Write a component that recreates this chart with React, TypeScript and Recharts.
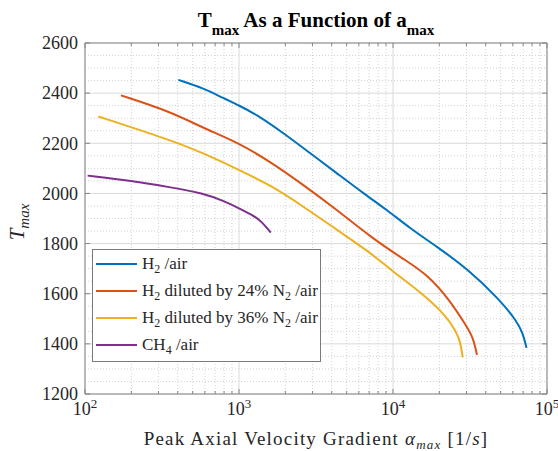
import React from 'react';
import { LineChart, Line, XAxis, YAxis, CartesianGrid, Legend } from 'recharts';

const FONT = "'Liberation Serif', 'Times New Roman', serif";
const AXIS = '#858585';
const TEXT = '#262626';

// axis ticks
const xMajorTicks = [100, 1000, 10000, 100000];
const xTickExp: Record<number, string> = { 100: '2', 1000: '3', 10000: '4', 100000: '5' };
const xMinorTicks = [
  200, 300, 400, 500, 600, 700, 800, 900,
  2000, 3000, 4000, 5000, 6000, 7000, 8000, 9000,
  20000, 30000, 40000, 50000, 60000, 70000, 80000, 90000,
];
const yTicks = [1200, 1400, 1600, 1800, 2000, 2200, 2400, 2600];
const yMinorGrid = [
  1250, 1300, 1350, 1450, 1500, 1550, 1650, 1700, 1750, 1850, 1900, 1950,
  2050, 2100, 2150, 2250, 2300, 2350, 2450, 2500, 2550,
];

// H2 / air
const h2AirX = [404, 586, 791, 1000, 1303, 1940, 2890, 4310, 6410, 9100, 12900, 19230, 30100, 49500, 63500, 69800, 73600];
const h2AirT = [2453, 2420, 2380, 2351, 2314, 2241, 2161, 2081, 2001, 1935, 1861, 1788, 1702, 1575, 1491, 1443, 1384];

// H2 diluted by 24% N2 / air
const h2N24X = [171, 356, 586, 1000, 1590, 2616, 4310, 7090, 11670, 16550, 23450, 30100, 33200, 35100];
const h2N24T = [2391, 2327, 2261, 2201, 2127, 2034, 1935, 1828, 1738, 1679, 1573, 1469, 1424, 1356];

// H2 diluted by 36% N2 / air
const h2N36X = [122, 356, 586, 1000, 1590, 2616, 4310, 7090, 9570, 15740, 22330, 25290, 27230, 28370];
const h2N36T = [2307, 2214, 2161, 2094, 2034, 1948, 1855, 1765, 1697, 1598, 1509, 1455, 1416, 1346];

// CH4 / air
const ch4AirX = [104, 201, 356, 586, 800, 1041, 1239, 1404, 1607];
const ch4AirT = [2071, 2050, 2025, 2001, 1970, 1935, 1912, 1888, 1844];

const seriesNames = ['H_2 /air', 'H_2 diluted by 24% N_2 /air', 'H_2 diluted by 36% N_2 /air', 'CH_4 /air'];
const seriesColors = ['#0072BD', '#D95319', '#EDB120', '#7E2F8E'];

const toPoints = (xs: number[], ts: number[]) => xs.map((x, i) => ({ x, t: ts[i] }));

const seriesData = [
  toPoints(h2AirX, h2AirT),
  toPoints(h2N24X, h2N24T),
  toPoints(h2N36X, h2N36T),
  toPoints(ch4AirX, ch4AirT),
];

const BottomTick = (props: any) => {
  const { x, y, payload } = props;
  const major = xMajorTicks.includes(payload.value);
  return (
    <g>
      <line x1={x} y1={y} x2={x} y2={y - (major ? 5 : 3)} stroke={AXIS} />
      {major && (
        <text x={x} y={y + 21} textAnchor="middle" fontFamily={FONT} fontSize={18} fill={TEXT}>
          10<tspan dy={-7} fontSize={13}>{xTickExp[payload.value]}</tspan>
        </text>
      )}
    </g>
  );
};

const TopTick = (props: any) => {
  const { x, y, payload } = props;
  const major = xMajorTicks.includes(payload.value);
  return <line x1={x} y1={y} x2={x} y2={y + (major ? 5 : 3)} stroke={AXIS} />;
};

const LeftTick = (props: any) => {
  const { x, y, payload } = props;
  return (
    <g>
      <line x1={x} y1={y} x2={x + 5} y2={y} stroke={AXIS} />
      <text x={x - 7} y={y} dy="0.35em" textAnchor="end" fontFamily={FONT} fontSize={18} fill={TEXT}>
        {payload.value}
      </text>
    </g>
  );
};

const RightTick = (props: any) => {
  const { x, y } = props;
  return <line x1={x} y1={y} x2={x - 5} y2={y} stroke={AXIS} />;
};

const Title = () => (
  <text x={316} y={27} textAnchor="middle" fontFamily={FONT} fontSize={21} fontWeight="bold" fill="#000">
    T<tspan dy={8} fontSize={15}>max</tspan>
    <tspan dy={-8}> As a Function of a</tspan>
    <tspan dy={8} fontSize={15}>max</tspan>
  </text>
);

const XLabel = () => (
  <text x={316} y={445} textAnchor="middle" fontFamily={FONT} fontSize={19} letterSpacing={1.2} fill={TEXT}>
    Peak Axial Velocity Gradient <tspan fontStyle="italic">α</tspan>
    <tspan dy={4} fontSize={13} fontStyle="italic">max</tspan>
    <tspan dy={-4}> [1/</tspan>
    <tspan fontStyle="italic">s</tspan>]
  </text>
);

const YLabel = () => (
  <text
    transform="rotate(-90)"
    x={-222}
    y={24}
    textAnchor="middle"
    fontFamily={FONT}
    fontSize={21}
    fontStyle="italic"
    fill={TEXT}
  >
    T<tspan dy={5} fontSize={15}>max</tspan>
  </text>
);

const rich = (s: string) =>
  s.split(/(_\w)/).map((p, i) =>
    p.startsWith('_') ? (
      <span key={i} style={{ fontSize: 12, position: 'relative', top: 4 }}>
        {p.slice(1)}
      </span>
    ) : (
      <span key={i}>{p}</span>
    )
  );

const LegendBox = (props: any) => {
  const items = [...(props.payload || [])].sort(
    (a: any, b: any) => seriesNames.indexOf(a.value) - seriesNames.indexOf(b.value)
  );
  return (
    <div
      style={{
        border: '1px solid #7a7a7a',
        background: '#fff',
        width: 227,
        paddingBottom: 3,
        fontFamily: FONT,
        fontSize: 17,
        color: TEXT,
      }}
    >
      {items.map((entry: any, i: number) => (
        <div key={i} style={{ display: 'flex', alignItems: 'center', height: 27, whiteSpace: 'pre' }}>
          <div style={{ width: 41, height: 2, marginLeft: 3, marginRight: 5, background: entry.color }} />
          <div>{rich(entry.value)}</div>
        </div>
      ))}
    </div>
  );
};

const allXTicks = [...xMajorTicks, ...xMinorTicks].sort((a, b) => a - b);

export default function App() {
  return (
    <div style={{ position: 'absolute', left: 0, top: 0, width: 558, height: 451, background: '#fff' }}>
      <LineChart width={558} height={451} margin={{ top: 0, right: 0, bottom: 0, left: 0 }}>
        <CartesianGrid
          horizontalValues={yMinorGrid}
          verticalValues={xMinorTicks}
          stroke="#d2d2d2"
          strokeDasharray="1 2"
        />
        <CartesianGrid horizontalValues={yTicks} verticalValues={xMajorTicks} stroke="#dadada" />
        <XAxis
          dataKey="x"
          type="number"
          scale="log"
          domain={[100, 100000]}
          allowDataOverflow
          ticks={allXTicks}
          interval={0}
          tick={<BottomTick />}
          tickLine={false}
          tickSize={0}
          tickMargin={0}
          axisLine={{ stroke: AXIS }}
          height={57}
          label={<XLabel />}
        />
        <XAxis
          xAxisId="top"
          orientation="top"
          dataKey="x"
          type="number"
          scale="log"
          domain={[100, 100000]}
          allowDataOverflow
          ticks={allXTicks}
          interval={0}
          tick={<TopTick />}
          tickLine={false}
          tickSize={0}
          tickMargin={0}
          axisLine={{ stroke: AXIS }}
          height={43}
          label={<Title />}
        />
        <YAxis
          type="number"
          domain={[1200, 2600]}
          allowDataOverflow
          ticks={yTicks}
          interval={0}
          tick={<LeftTick />}
          tickLine={false}
          tickSize={0}
          tickMargin={0}
          axisLine={{ stroke: AXIS }}
          width={85}
          label={<YLabel />}
        />
        <YAxis
          yAxisId="right"
          orientation="right"
          type="number"
          domain={[1200, 2600]}
          allowDataOverflow
          ticks={yTicks}
          interval={0}
          tick={<RightTick />}
          tickLine={false}
          tickSize={0}
          tickMargin={0}
          axisLine={{ stroke: AXIS }}
          width={11}
        />
        <Legend
          layout="vertical"
          align="center"
          verticalAlign="middle"
          wrapperStyle={{ left: 92, top: 249, width: 229 }}
          content={<LegendBox />}
        />
        {seriesData.map((d, i) => (
          <Line
            key={seriesNames[i]}
            data={d}
            dataKey="t"
            name={seriesNames[i]}
            type="basis"
            stroke={seriesColors[i]}
            strokeWidth={2}
            dot={false}
            activeDot={false}
            isAnimationActive={false}
          />
        ))}
      </LineChart>
    </div>
  );
}
